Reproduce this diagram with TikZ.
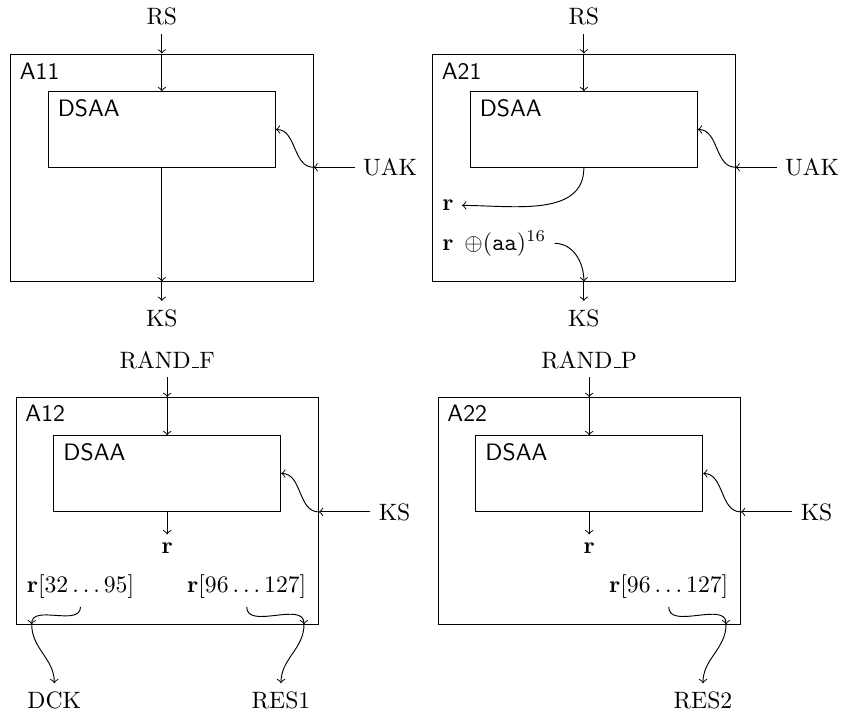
\documentclass[tikz,border=0pt]{standalone}
\newcommand{\myus}{\leavevmode\kern.06em\vbox{\hrule width.3em}}
\begin{document}
\begin{tikzpicture}[x=0.422pt,y=-0.422pt,
  outerbox/.style={draw, minimum width=127.6pt, minimum height=95.8pt, inner sep=0pt},
  innerbox/.style={draw, minimum width=95.8pt, minimum height=31.9pt, inner sep=0pt},
  boxlabel/.style={anchor=base west, font=\sffamily},
  txt/.style={anchor=base},
  txtw/.style={anchor=base west},
  arr/.style={->}]
\useasboundingbox (0,0) rectangle (844,717);

% ---------- A11 ----------
\node[outerbox] (o11) at (161.85,167.5) {};
\node[innerbox] (d11) at (161.85,129.5) {};
\node[boxlabel] (la11) at (11.5,79) {A11};
\node[boxlabel] (ld11) at (49.4,116.5) {DSAA};
\node[txt] (rs1) at (161.85,25) {RS};
\node[txt] (ks1) at (161.85,326) {KS};
\node[txtw] (uak1) at (354.8,175.5) {UAK};
\draw[arr] (rs1) -- (o11.north);
\draw[arr] (o11.north) -- (d11.north);
\draw[arr] (d11.south) -- (o11.south);
\draw[arr] (o11.south) -- (ks1);
\draw[arr] (uak1.west) -- (uak1.west -| o11.east);
\draw[arr] (uak1.west -| o11.east) to[out=180,in=0] (d11.east);

% ---------- A21 ----------
\node[outerbox] (o21) at (583.85,167.5) {};
\node[innerbox] (d21) at (583.85,129.5) {};
\node[boxlabel] (la21) at (433.5,79) {A21};
\node[boxlabel] (ld21) at (471.4,116.5) {DSAA};
\node[txt] (rs2) at (583.85,25) {RS};
\node[txt] (ks2) at (583.85,326) {KS};
\node[txtw] (uak2) at (776.8,175.5) {UAK};
\node[txtw] (r21) at (434.1,210.7) {$\mathbf{r}$};
\node[txtw] (rx21) at (434.1,250) {$\mathbf{r}\hspace{4.5pt}{\oplus}(\mathtt{aa})^{16}$};
\draw[arr] (rs2) -- (o21.north);
\draw[arr] (o21.north) -- (d21.north);
\draw[arr] (d21.south) to[out=-90,in=0] (r21.east);
\draw[arr] (rx21.east) to[out=0,in=90] (o21.south);
\draw[arr] (o21.south) -- (ks2);
\draw[arr] (uak2.west) -- (uak2.west -| o21.east);
\draw[arr] (uak2.west -| o21.east) to[out=180,in=0] (d21.east);

% ---------- A12 ----------
\node[outerbox] (o12) at (167.2,511) {};
\node[innerbox] (d12) at (167.2,473.5) {};
\node[boxlabel] (la12) at (17.1,421.7) {A12};
\node[boxlabel] (ld12) at (55.1,460) {DSAA};
\node[txt] (randf) at (167.2,368.3) {RAND\myus F};
\node[txtw] (ks3) at (370.4,520) {KS};
\node[txt] (r12) at (167.2,553.3) {$\mathbf{r}$};
\node[txt] (ra12) at (80.5,592.5) {$\mathbf{r}[32\ldots95]$};
\node[txt] (rb12) at (246.7,592.5) {$\mathbf{r}[96\ldots127]$};
\node[txt] (dck) at (54.3,708.3) {DCK};
\node[txt] (res1) at (281,708.3) {RES1};
\coordinate (c12a) at (31.7,624.3);
\coordinate (c12b) at (304,624.3);
\draw[arr] (randf) -- (o12.north);
\draw[arr] (o12.north) -- (d12.north);
\draw[arr] (d12.south) -- (r12);
\draw[arr] (ks3.west) -- (ks3.west -| o12.east);
\draw[arr] (ks3.west -| o12.east) to[out=180,in=0] (d12.east);
\draw[arr] (ra12.south) to[out=-90,in=90] (c12a);
\draw[arr] (c12a) to[out=-90,in=90] (dck.north);
\draw[arr] (rb12.south) to[out=-90,in=90] (c12b);
\draw[arr] (c12b) to[out=-90,in=90] (res1.north);

% ---------- A22 ----------
\node[outerbox] (o22) at (589.2,511) {};
\node[innerbox] (d22) at (589.2,473.5) {};
\node[boxlabel] (la22) at (439.1,421.7) {A22};
\node[boxlabel] (ld22) at (477.1,460) {DSAA};
\node[txt] (randp) at (589.2,368.3) {RAND\myus P};
\node[txtw] (ks4) at (792.4,520) {KS};
\node[txt] (r22) at (589.2,553.3) {$\mathbf{r}$};
\node[txt] (rb22) at (668.7,592.5) {$\mathbf{r}[96\ldots127]$};
\node[txt] (res2) at (703,708.3) {RES2};
\coordinate (c22b) at (726,624.3);
\draw[arr] (randp) -- (o22.north);
\draw[arr] (o22.north) -- (d22.north);
\draw[arr] (d22.south) -- (r22);
\draw[arr] (ks4.west) -- (ks4.west -| o22.east);
\draw[arr] (ks4.west -| o22.east) to[out=180,in=0] (d22.east);
\draw[arr] (rb22.south) to[out=-90,in=90] (c22b);
\draw[arr] (c22b) to[out=-90,in=90] (res2.north);
\end{tikzpicture}
\end{document}
